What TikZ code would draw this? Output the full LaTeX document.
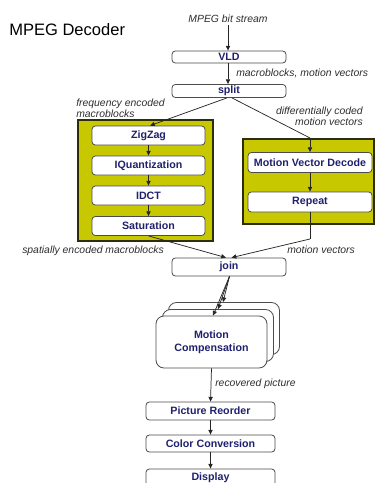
\documentclass[tikz,border=0pt]{standalone}
\usepackage{fontspec}
\usetikzlibrary{arrows.meta}
\newfontfamily\arialfam{Liberation Sans}
\definecolor{inknavy}{RGB}{32,32,112}
\definecolor{groupfill}{RGB}{200,200,0}
\definecolor{groupedge}{RGB}{45,45,10}
\definecolor{labelgray}{RGB}{45,45,45}
\tikzset{
  blk/.style={draw=black!70, fill=white, rounded corners=2.5pt, line width=0.6pt,
    font=\arialfam\bfseries\fontsize{8}{9.5}\selectfont, text=inknavy,
    inner sep=0pt, align=center},
  bw/.style={minimum width=#1*0.75pt},
  bh/.style={minimum height=#1*0.75pt},
  mcbox/.style={draw=black!70, fill=white, rounded corners=6pt, line width=0.6pt,
    minimum width=111*0.75pt, minimum height=52*0.75pt, inner sep=0pt,
    font=\arialfam\bfseries\fontsize{8}{10}\selectfont, text=inknavy, align=center},
  lbl/.style={font=\arialfam\itshape\fontsize{7.8}{6.3}\selectfont, text=labelgray, inner sep=0pt},
  arr/.style={-{Triangle[length=3.6pt,width=3.2pt]}, line width=0.55pt, black!85},
  plain/.style={line width=0.55pt, black!85},
  group/.style={draw=groupedge, fill=groupfill, line width=1.1pt}
}
\begin{document}
\begin{tikzpicture}[x=0.75pt, y=-0.75pt]
  \useasboundingbox (0,0) rectangle (376,483);
  \clip (0,0) rectangle (376,483);

  % title
  \node[anchor=west, inner sep=0pt, font=\arialfam\fontsize{12.4}{14}\selectfont] (title) at (9,30) {MPEG Decoder};

  % the two grouped stages
  \draw[group] (78,120) rectangle (213,241);
  \draw[group] (243,139) rectangle (374,224);

  % main pipeline
  \node[lbl] (instream) at (228,19) {MPEG bit stream};
  \coordinate (instart) at (228,25);
  \node[blk, bw=114, bh=12] (vld) at (229,57) {VLD};
  \node[lbl, anchor=west] (mbmv) at (236,73) {macroblocks, motion vectors};
  \node[blk, bw=114, bh=13] (split) at (229,91) {split};

  \node[lbl, anchor=north west, align=left] (freq) at (76,99) {frequency encoded\\macroblocks};
  \node[lbl, anchor=north east, align=right] (diff) at (363,107) {differentially coded\\motion vectors};

  % frequency-domain branch
  \node[blk, bw=113, bh=19] (zigzag) at (148.5,135.5) {ZigZag};
  \node[blk, bw=113, bh=19] (iquant) at (148.5,165.5) {IQuantization};
  \node[blk, bw=113, bh=19] (idct) at (148.5,195.5) {IDCT};
  \node[blk, bw=113, bh=19] (satur) at (148.5,226) {Saturation};

  % motion vector branch
  \node[blk, bw=124, bh=20] (mvd) at (310,162.5) {Motion Vector Decode};
  \node[blk, bw=124, bh=20] (repeat) at (310,202) {Repeat};

  \node[lbl, anchor=west] (spatial) at (22,251) {spatially encoded macroblocks};
  \node[lbl, anchor=west] (mvlbl) at (287,250) {motion vectors};

  \node[blk, bw=114, bh=18] (join) at (229,267) {join};

  % stacked motion compensation stages
  \node[mcbox] (mcback) at (224,328.5) {};
  \node[mcbox] (mcmid) at (218,335.5) {};
  \node[mcbox] (mc) at (211.5,342) {Motion\\Compensation};

  \node[lbl, anchor=west] (recov) at (215,384) {recovered picture};

  \node[blk, bw=129, bh=18] (reorder) at (210.5,411) {Picture Reorder};
  \node[blk, bw=129, bh=17] (colconv) at (210.5,443.5) {Color Conversion};
  \node[blk, bw=129, bh=18] (display) at (210.5,478) {Display};

  % connectors
  \coordinate (mvbend) at (310,138);
  \coordinate (rpbend) at (310,239);
  \draw[arr] (instart) -- (vld.north -| instart);
  \draw[arr] (vld.south -| instart) -- (split.north -| instart);
  \draw[arr] ([xshift=-2*0.75pt]split.south) -- ([xshift=1.5*0.75pt]zigzag.north);
  \draw[plain] ([xshift=3*0.75pt]split.south) -- (mvbend);
  \draw[arr] (mvbend) -- (mvd.north);
  \draw[arr] (zigzag) -- (iquant);
  \draw[arr] (iquant) -- (idct);
  \draw[arr] (idct) -- (satur);
  \draw[arr] (mvd) -- (repeat);
  \draw[arr] (satur.south) -- ([xshift=-3*0.75pt]join.north);
  \draw[plain] (repeat.south) -- (rpbend);
  \draw[arr] (rpbend) -- ([xshift=2.5*0.75pt]join.north);
  \draw[arr] ([xshift=0.5*0.75pt]join.south) -- ([xshift=1.5*0.75pt]mc.north);
  \draw[arr] ([xshift=0.5*0.75pt]join.south) -- ([xshift=0*0.75pt]mcmid.north);
  \draw[arr] ([xshift=0.5*0.75pt]join.south) -- ([xshift=-1*0.75pt]mcback.north);
  \draw[arr] (mc.south) -- (reorder.north);
  \draw[arr] (reorder) -- (colconv);
  \draw[arr] (colconv) -- (display);
\end{tikzpicture}
\end{document}
